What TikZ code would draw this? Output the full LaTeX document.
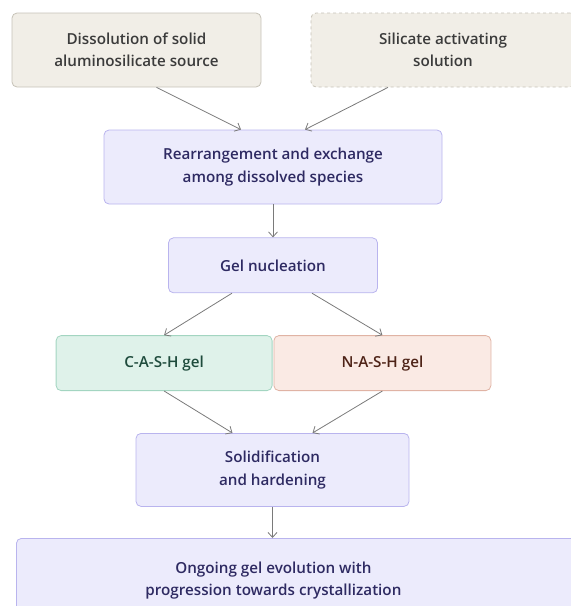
\documentclass[tikz,border=0pt]{standalone}
\usepackage{fontspec}
\IfFontExistsTF{Open Sans Semibold}
  {\setmainfont{Open Sans}[BoldFont={Open Sans Semibold}]}
  {\IfFontExistsTF{Noto Sans SemiBold}
    {\setmainfont{Noto Sans}[BoldFont={Noto Sans SemiBold}]}
    {\setmainfont{Open Sans}}}
\usetikzlibrary{arrows.meta,positioning}
\definecolor{srcfill}{HTML}{F1EEE7}
\definecolor{srcline}{HTML}{C6C2B7}
\definecolor{srctext}{HTML}{3B3B3B}
\definecolor{stepfill}{HTML}{ECEBFC}
\definecolor{stepline}{HTML}{B9B4EE}
\definecolor{steptext}{HTML}{2E2A62}
\definecolor{cashfill}{HTML}{DFF2EA}
\definecolor{cashline}{HTML}{A3D5C1}
\definecolor{cashtext}{HTML}{1E4B3C}
\definecolor{nashfill}{HTML}{FAEAE4}
\definecolor{nashline}{HTML}{E0B3A4}
\definecolor{nashtext}{HTML}{4E2317}
\definecolor{arrowgray}{HTML}{7A7A7A}

\begin{document}
\begin{tikzpicture}[
    x=1pt, y=1pt,
    box/.style={rectangle, rounded corners=5pt, draw, line width=0.8pt, align=center,
                font=\bfseries\fontsize{15.2}{22.5}\selectfont, inner sep=2pt},
    src/.style={box, fill=srcfill, draw=srcline, text=srctext},
    stage/.style={box, fill=stepfill, draw=stepline, text=steptext},
    cashbox/.style={box, fill=cashfill, draw=cashline, text=cashtext},
    nashbox/.style={box, fill=nashfill, draw=nashline, text=nashtext},
    arrow/.style={-{Straight Barb[length=5pt, width=9pt]}, line width=0.8pt, arrowgray}
  ]
  \clip (0,0) rectangle (571,-606);

  % --- sources ---
  \node[src, minimum width=249pt, minimum height=74pt] (dis) at (136.5,-50)
    {Dissolution of solid\\aluminosilicate source};
  \node[src, dashed, minimum width=264pt, minimum height=74pt] (sil) at (443,-50)
    {Silicate activating\\solution};

  % --- main chain ---
  \node[stage, minimum width=338pt, minimum height=74pt] (rear) at (273,-167)
    {Rearrangement and exchange\\among dissolved species};
  \node[stage, minimum width=209pt, minimum height=55pt, below=33pt of rear] (nuc)
    {Gel nucleation};
  \node[cashbox, minimum width=216pt, minimum height=55pt, below left=42pt and 0.5pt of nuc.south] (cash)
    {C-A-S-H gel};
  \node[nashbox, minimum width=217pt, minimum height=55pt, below right=42pt and 0.5pt of nuc.south] (nash)
    {N-A-S-H gel};
  \node[stage, minimum width=273pt, minimum height=73pt, below=42pt of cash.south east] (sol)
    {Solidification\\and hardening};
  \node[stage, anchor=north west, minimum height=84pt, inner xsep=0pt] (evol) at (16,-538)
    {\parbox{514pt}{\centering Ongoing gel evolution with\\progression towards crystallization}\hspace{90pt}};

  % arrows
  \draw[arrow] ([xshift=20pt]dis.south) -- ([xshift=-32pt]rear.north);
  \draw[arrow] ([xshift=-55pt]sil.south) -- ([xshift=32pt]rear.north);
  \draw[arrow] (rear) -- (nuc);
  \draw[arrow] ([xshift=-41pt]nuc.south) -- (cash.north);
  \draw[arrow] ([xshift=39pt]nuc.south) -- (nash.north);
  \draw[arrow] (cash.south) -- ([xshift=-40pt]sol.north);
  \draw[arrow] (nash.south) -- ([xshift=40pt]sol.north);
  \draw[arrow] (sol) -- (evol.north -| sol);
\end{tikzpicture}
\end{document}
